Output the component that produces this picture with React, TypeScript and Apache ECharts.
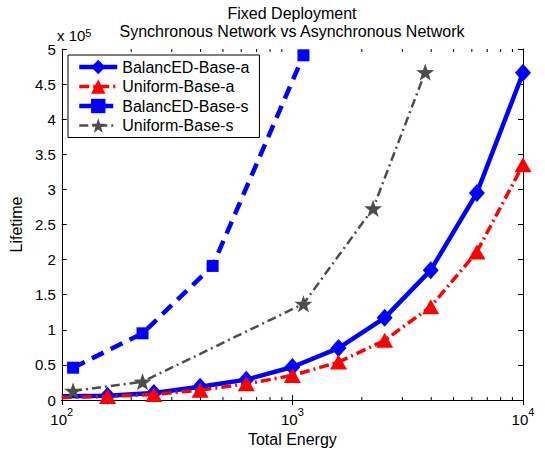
import { useEffect, useRef } from "react";
import * as echarts from "echarts";

// Energy budgets (x) and network lifetimes (y)
const energyA = [100, 158, 251, 398, 631, 1000, 1585, 2512, 3981, 6310, 10000];
const balancedA = [5500, 6000, 10000, 19000, 29000, 47000, 74000, 117000, 185000, 295000, 466000];
const uniformA = [3500, 5000, 8000, 14000, 23000, 35000, 54000, 85000, 133000, 211000, 335000];

const energyBalancedS = [112, 224, 451, 1117];
const balancedS = [46000, 95000, 191000, 491000];

const energyUniformS = [112, 224, 1117, 2239, 3767];
const uniformS = [13000, 26000, 137000, 273000, 467000];

const seriesNames = ["BalancED-Base-a", "Uniform-Base-a", "BalancED-Base-s", "Uniform-Base-s"];
const minorTickValues = [200, 300, 400, 500, 600, 700, 800, 900, 2000, 3000, 4000, 5000, 6000, 7000, 8000, 9000];

const FONT = "'Liberation Sans', Arial, Helvetica, sans-serif";
const STAR =
  "path://M0,-10 L2.35,-3.24 L9.51,-3.09 L3.8,1.24 L5.88,8.09 L0,4 L-5.88,8.09 L-3.8,1.24 L-9.51,-3.09 L-2.35,-3.24 Z";

const pairs = (xs: number[], ys: number[]) => xs.map((x, i) => [x, ys[i]]);
// first point sits on the left frame edge: line only, no marker
const edgeStart = (xs: number[], ys: number[]) =>
  xs.map((x, i) => (i === 0 ? { value: [x, ys[i]], symbol: "none" } : [x, ys[i]]));

export default function App() {
  const ref = useRef<HTMLDivElement>(null);

  useEffect(() => {
    if (!ref.current) return;
    const chart = echarts.init(ref.current, undefined, { renderer: "svg" });

    const logLabel = (v: number) => `{b|10}{s|${Math.round(Math.log10(v))}}`;

    chart.setOption({
      animation: false,
      backgroundColor: "#fff",
      textStyle: { fontFamily: FONT },
      title: {
        text: "Fixed Deployment\nSynchronous Network vs Asynchronous Network",
        left: 292,
        top: 4,
        padding: 0,
        textAlign: "center",
        textStyle: { fontSize: 16, fontWeight: "normal", color: "#000", lineHeight: 18, fontFamily: FONT },
      },
      grid: { left: 61, right: 22, top: 49, bottom: 54, containLabel: false },
      legend: {
        orient: "vertical",
        left: 68,
        top: 55,
        data: seriesNames,
        itemWidth: 38,
        itemHeight: 18,
        itemGap: 3.5,
        padding: [4, 10, 4, 9],
        borderColor: "#000",
        borderWidth: 1,
        backgroundColor: "#fff",
        selectedMode: false,
        lineStyle: { width: "inherit" },
        textStyle: { fontSize: 16, color: "#000", fontFamily: FONT },
      },
      xAxis: [
        {
          type: "log",
          logBase: 10,
          min: 100,
          max: 10000,
          name: "Total Energy",
          nameLocation: "middle",
          nameGap: 28,
          nameTextStyle: { fontSize: 16, color: "#000", fontFamily: FONT },
          axisLine: { lineStyle: { color: "#000", width: 1 } },
          axisTick: { inside: true, length: 5, lineStyle: { color: "#000" } },
          splitLine: { show: false },
          axisLabel: {
            color: "#000",
            margin: 6,
            formatter: logLabel,
            rich: {
              b: { fontSize: 15, lineHeight: 21, verticalAlign: "bottom", color: "#000", fontFamily: FONT },
              s: { fontSize: 11, lineHeight: 11, verticalAlign: "top", color: "#000", fontFamily: FONT },
            },
          },
        },
        {
          type: "log",
          logBase: 10,
          min: 100,
          max: 10000,
          position: "top",
          axisLine: { lineStyle: { color: "#000", width: 1 } },
          axisTick: { inside: true, length: 5, lineStyle: { color: "#000" } },
          axisLabel: { show: false },
          splitLine: { show: false },
        },
      ],
      yAxis: [
        {
          type: "value",
          min: 0,
          max: 500000,
          interval: 50000,
          name: "Lifetime",
          nameLocation: "middle",
          nameGap: 37,
          nameRotate: 90,
          nameTextStyle: { fontSize: 16, color: "#000", fontFamily: FONT },
          axisLine: { show: true, lineStyle: { color: "#000", width: 1 } },
          axisTick: { show: true, inside: true, length: 5, lineStyle: { color: "#000" } },
          splitLine: { show: false },
          axisLabel: {
            color: "#000",
            fontSize: 15,
            margin: 6,
            fontFamily: FONT,
            formatter: (v: number) => String(Math.round((v / 100000) * 10) / 10),
          },
        },
        {
          type: "value",
          min: 0,
          max: 500000,
          interval: 50000,
          position: "right",
          axisLine: { show: true, lineStyle: { color: "#000", width: 1 } },
          axisTick: { show: true, inside: true, length: 5, lineStyle: { color: "#000" } },
          axisLabel: { show: false },
          splitLine: { show: false },
        },
      ],
      graphic: [
        {
          type: "text",
          left: 57,
          top: 27,
          style: {
            text: "{a|x 10}{s|5}",
            rich: {
              a: { fontSize: 15, lineHeight: 16, verticalAlign: "bottom", fill: "#000", fontFamily: FONT },
              s: { fontSize: 11, lineHeight: 10, verticalAlign: "top", fill: "#000", fontFamily: FONT },
            },
          },
        },
      ],
      series: [
        {
          name: seriesNames[0],
          type: "line",
          data: edgeStart(energyA, balancedA),
          color: "#0000ff",
          symbol: "diamond",
          symbolSize: [16, 18],
          lineStyle: { color: "#0000ff", width: 4.5, type: "solid" },
          itemStyle: { color: "#0000ff" },
          clip: true,
          z: 2,
        },
        {
          name: seriesNames[1],
          type: "line",
          data: edgeStart(energyA, uniformA),
          color: "#ff0000",
          symbol: "triangle",
          symbolSize: [17, 15],
          lineStyle: { color: "#ff0000", width: 3.5, type: [10, 4, 2, 4] },
          itemStyle: { color: "#ff0000" },
          clip: true,
          z: 3,
        },
        {
          name: seriesNames[2],
          type: "line",
          data: pairs(energyBalancedS, balancedS),
          color: "#0000ff",
          symbol: "rect",
          symbolSize: 12,
          lineStyle: { color: "#0000ff", width: 4.5, type: [13, 8] },
          itemStyle: { color: "#0000ff" },
          clip: true,
          z: 4,
        },
        {
          name: seriesNames[3],
          type: "line",
          data: pairs(energyUniformS, uniformS),
          color: "#4d4d4d",
          symbol: STAR,
          symbolSize: 18,
          symbolKeepAspect: true,
          lineStyle: { color: "#4d4d4d", width: 2.5, type: [9, 4, 2, 4] },
          itemStyle: { color: "#4d4d4d" },
          clip: true,
          z: 5,
        },
        {
          // minor log ticks along the bottom and top frame
          type: "custom",
          silent: true,
          clip: false,
          z: 1,
          data: minorTickValues.map((v) => [v, 0]),
          renderItem: (params: any, api: any) => {
            const cs = params.coordSys;
            const x = api.coord([api.value(0), 0])[0];
            const top = cs.y;
            const bottom = cs.y + cs.height;
            return {
              type: "group",
              children: [
                { type: "line", shape: { x1: x, y1: bottom, x2: x, y2: bottom - 3 }, style: { stroke: "#000", lineWidth: 1 } },
                { type: "line", shape: { x1: x, y1: top, x2: x, y2: top + 3 }, style: { stroke: "#000", lineWidth: 1 } },
              ],
            };
          },
        },
      ],
    });

    return () => chart.dispose();
  }, []);

  return (
    <div
      ref={ref}
      style={{ position: "fixed", left: 0, top: 0, width: 545, height: 454, background: "#fff" }}
    />
  );
}
